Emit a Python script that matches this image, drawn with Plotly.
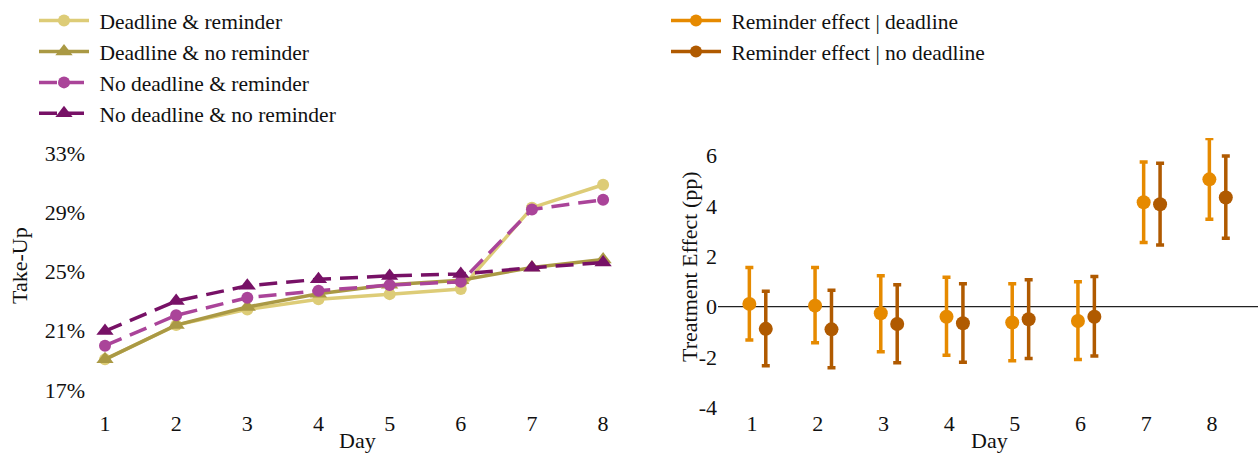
import plotly.graph_objects as go

days = [1, 2, 3, 4, 5, 6, 7, 8]

# Take-up (%) by group
dl_rem = [19.07, 21.38, 22.44, 23.12, 23.47, 23.81, 29.3, 30.85]
dl_norem = [19.07, 21.38, 22.6, 23.5, 24.1, 24.4, 25.27, 25.8]
nodl_rem = [19.99, 22.04, 23.23, 23.7, 24.08, 24.3, 29.18, 29.84]
nodl_norem = [20.98, 23.0, 24.03, 24.47, 24.7, 24.83, 25.25, 25.6]

# Reminder effects (pp) with CI bounds
eff_dl = [0.11, 0.04, -0.26, -0.40, -0.63, -0.57, 4.14, 5.05]
eff_dl_hi = [1.55, 1.55, 1.23, 1.17, 0.91, 0.99, 5.74, 6.67]
eff_dl_lo = [-1.32, -1.43, -1.79, -1.93, -2.15, -2.10, 2.54, 3.47]
eff_nodl = [-0.88, -0.90, -0.69, -0.66, -0.50, -0.40, 4.06, 4.33]
eff_nodl_hi = [0.61, 0.65, 0.87, 0.91, 1.07, 1.20, 5.69, 5.98]
eff_nodl_lo = [-2.34, -2.42, -2.23, -2.21, -2.06, -1.96, 2.45, 2.71]

y1_ticks = [17, 21, 25, 29, 33]
y1_labels = ["17%", "21%", "25%", "29%", "33%"]
y2_ticks = [-4, -2, 0, 2, 4, 6]
y2_labels = ["-4", "-2", "0", "2", "4", "6"]

FONT = "Liberation Serif"
NB = "\u00a0"
W, H = 1258, 453
ML, MR, MT, MB = 86, 0, 138, 45
PW = W - ML - MR
PH = H - MT - MB

fig = go.Figure()

def line(y, name, color, dash, symbol, size):
    fig.add_trace(go.Scatter(
        x=days, y=y, name=NB + name, mode="lines+markers",
        line=dict(color=color, width=3.5, dash=dash),
        marker=dict(color=color, size=size, symbol=symbol),
        xaxis="x", yaxis="y", legend="legend"))

line(dl_rem, "Deadline & reminder", "#DDCC77", "solid", "circle", 12)
line(dl_norem, "Deadline & no reminder", "#AA9944", "solid", "triangle-up", 15)
line(nodl_rem, "No deadline & reminder", "#AA4499", "18px,9px", "circle", 12)
line(nodl_norem, "No deadline & no reminder", "#771166", "18px,9px", "triangle-up", 15)

def eff(y, hi, lo, offset, name, color):
    fig.add_trace(go.Scatter(
        x=[d + offset for d in days], y=y, name=name, mode="markers",
        marker=dict(color=color, size=14), showlegend=False,
        error_y=dict(type="data", symmetric=False,
                     array=[h - v for h, v in zip(hi, y)],
                     arrayminus=[v - l for v, l in zip(y, lo)],
                     color=color, thickness=3.5, width=4),
        xaxis="x2", yaxis="y2"))
    fig.add_trace(go.Scatter(
        x=[None], y=[None], name=NB + name, mode="lines+markers",
        line=dict(color=color, width=3.5), marker=dict(color=color, size=12),
        xaxis="x2", yaxis="y2", legend="legend2"))

eff(eff_dl, eff_dl_hi, eff_dl_lo, -0.04, "Reminder effect | deadline", "#E68A00")
eff(eff_nodl, eff_nodl_hi, eff_nodl_lo, 0.21, "Reminder effect | no deadline", "#B05A00")

# zero reference line across the right panel
fig.add_shape(type="line", xref="x2 domain", yref="y2", x0=0, x1=1, y0=0, y1=0,
              line=dict(color="#222", width=1.2), layer="below")

axis_font = dict(family=FONT, size=22, color="#111")
legend_font = dict(family=FONT, size=21.5, color="#111")

def px_x(p):
    return (p - ML) / PW

def px_y(p):
    return 1 - (p - MT) / PH

annots = [
    dict(text="Take-Up", x=px_x(19), y=px_y(266), textangle=-90),
    dict(text="Treatment Effect (pp)", x=px_x(689), y=px_y(267), textangle=-90),
    dict(text="Day", x=px_x(357), y=px_y(440)),
    dict(text="Day", x=px_x(989), y=px_y(440)),
]
for a in annots:
    fig.add_annotation(xref="paper", yref="paper", showarrow=False,
                       xanchor="center", yanchor="middle", font=axis_font, **a)

fig.update_layout(
    width=W, height=H,
    margin=dict(l=ML, r=MR, t=MT, b=MB, autoexpand=False),
    paper_bgcolor="white", plot_bgcolor="white",
    font=dict(family=FONT, size=22, color="#111"),
    xaxis=dict(domain=[0, px_x(628)], range=[0.733, 8.35], tickvals=days,
               showgrid=False, zeroline=False, showline=False, tickfont=axis_font),
    yaxis=dict(range=[15.79, 34.0], tickvals=y1_ticks, ticktext=y1_labels,
               showgrid=False, zeroline=False, showline=False, tickfont=axis_font),
    xaxis2=dict(domain=[px_x(718), 1], range=[0.483, 8.7], tickvals=days,
                anchor="y2", showgrid=False, zeroline=False, showline=False,
                tickfont=axis_font),
    yaxis2=dict(range=[-4.02, 6.69], tickvals=y2_ticks, ticktext=y2_labels,
                anchor="x2", showgrid=False, zeroline=False, showline=False,
                tickfont=axis_font),
    legend=dict(xref="container", yref="container", x=34 / W, y=1 + 7 / H,
                xanchor="left", yanchor="top", font=legend_font,
                bgcolor="rgba(0,0,0,0)", tracegroupgap=0, itemwidth=50),
    legend2=dict(xref="container", yref="container", x=666 / W, y=1 + 7 / H,
                 xanchor="left", yanchor="top", font=legend_font,
                 bgcolor="rgba(0,0,0,0)", itemwidth=50),
)

fig.write_html("out.html")
